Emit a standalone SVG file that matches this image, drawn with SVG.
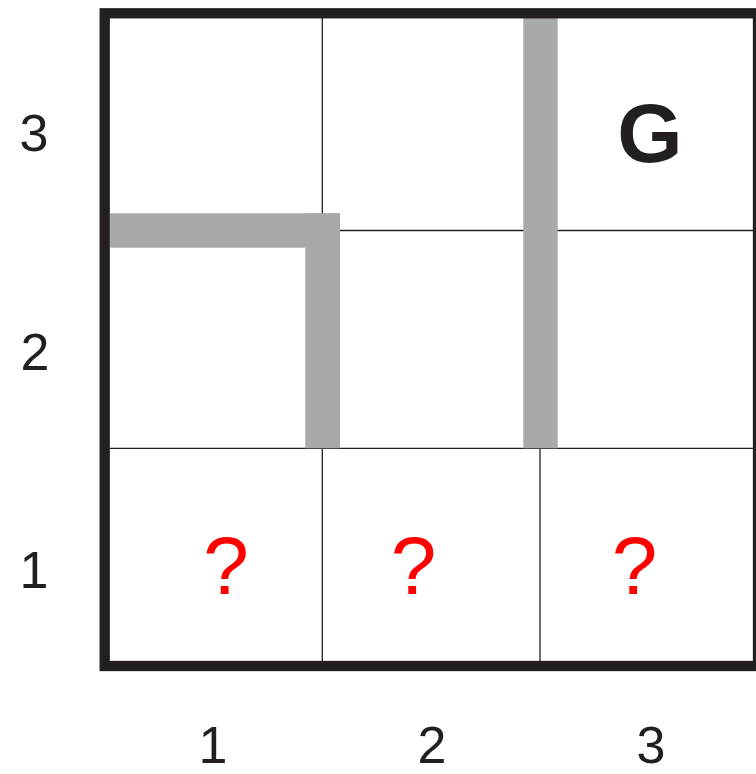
<svg xmlns="http://www.w3.org/2000/svg" width="756" height="774" viewBox="0 0 756 774">
  <style>
    .grid { stroke: #231f20; stroke-width: 1.3; fill: none; }
    .wall { fill: #a7a9ac; }
    .border { stroke: #231f20; stroke-width: 10.3; fill: none; }
    .axis { font-family: "Liberation Sans", Arial, sans-serif; font-size: 52px; fill: #231f20; text-anchor: middle; }
    .q { font-family: "Liberation Sans", Arial, sans-serif; font-size: 82px; fill: #ff0000; text-anchor: middle; }
    .goal { font-family: "Liberation Sans", Arial, sans-serif; font-size: 84px; font-weight: bold; fill: #231f20; text-anchor: middle; }
  </style>
  <rect x="0" y="0" width="756" height="774" fill="#ffffff"/>
  <g id="grid-lines">
    <line class="grid" x1="322.3" y1="18" x2="322.3" y2="661"/>
    <line class="grid" x1="540" y1="18" x2="540" y2="661"/>
    <line class="grid" x1="110" y1="230.5" x2="753" y2="230.5"/>
    <line class="grid" x1="110" y1="448.3" x2="753" y2="448.3"/>
  </g>
  <g id="walls">
    <rect class="wall" x="110" y="213.3" width="230" height="34.4"/>
    <rect class="wall" x="305.3" y="213.3" width="34.7" height="235"/>
    <rect class="wall" x="523.3" y="18" width="34.4" height="430.3"/>
  </g>
  <g id="border">
    <rect class="border" x="104.7" y="13.3" width="653.3" height="652.7"/>
  </g>
  <g id="cell-3-3"><text class="goal" x="650" y="162">G</text></g>
  <g id="cell-1-1"><text class="q" x="226" y="594">?</text></g>
  <g id="cell-2-1"><text class="q" x="413.5" y="594">?</text></g>
  <g id="cell-3-1"><text class="q" x="634.5" y="594">?</text></g>
  <g id="row-labels">
    <text class="axis" x="34" y="150.5">3</text>
    <text class="axis" x="35" y="370">2</text>
    <text class="axis" x="34" y="588">1</text>
  </g>
  <g id="column-labels">
    <text class="axis" x="213" y="763">1</text>
    <text class="axis" x="432" y="763">2</text>
    <text class="axis" x="651" y="763">3</text>
  </g>
</svg>
